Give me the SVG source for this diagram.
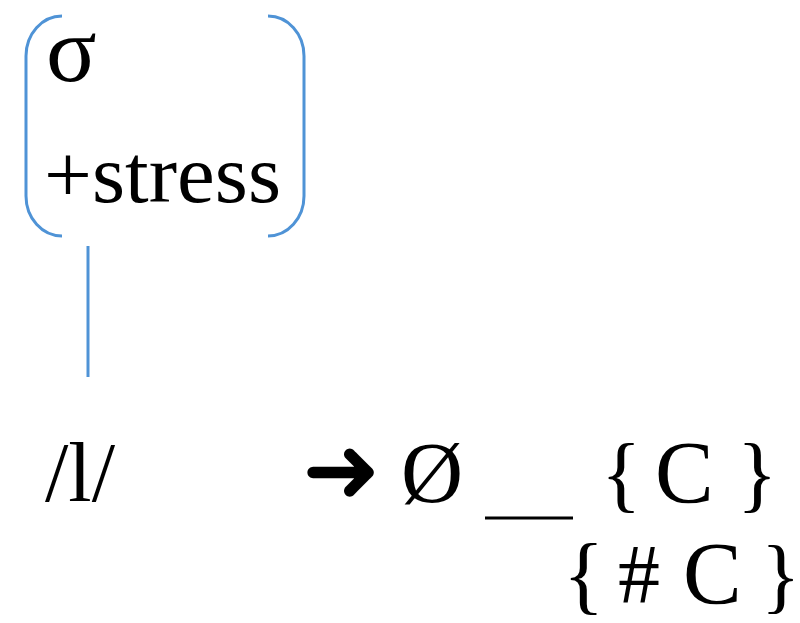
<svg xmlns="http://www.w3.org/2000/svg" width="800" height="623" viewBox="0 0 800 623">
<style>
.t{font-family:"Liberation Serif","Times New Roman",serif;fill:#000}
.br{fill:none;stroke:#4F93D6;stroke-width:3;stroke-linecap:butt}
</style>
<rect width="800" height="623" fill="#fff"/>
<g id="syllable">
<path class="br" d="M62,16 A36,40 0 0 0 26,56 L26,196 A36,40 0 0 0 62,236"/>
<path class="br" d="M268,16 A36,40 0 0 1 304,56 L304,196 A36,40 0 0 1 268,236"/>
<text class="t" x="46" y="81" font-size="94">σ</text>
<text class="t" x="44" y="202" font-size="82" textLength="237" lengthAdjust="spacingAndGlyphs">+stress</text>
</g>
<g id="connectors">
<line class="br" x1="88" y1="246" x2="88" y2="377"/>
</g>
<g id="segment">
<text class="t" x="45" y="501" font-size="84">/l/</text>
</g>
<g id="rule">
<text x="302" y="502" font-size="94" font-family="DejaVu Sans, sans-serif">➜</text>
<text class="t" x="401" y="502" font-size="86">Ø</text>
<line x1="485" y1="518" x2="573" y2="518" stroke="#000" stroke-width="3"/>
<text class="t" x="601" y="502" font-size="84">{</text>
<text class="t" x="655" y="502" font-size="88">C</text>
<text class="t" x="737" y="502" font-size="84">}</text>
<text class="t" x="563" y="603" font-size="86">{</text>
<text class="t" x="618" y="603" font-size="84">#</text>
<text class="t" x="683" y="603" font-size="88">C</text>
<text class="t" x="761" y="603" font-size="82">}</text>
</g>
</svg>
